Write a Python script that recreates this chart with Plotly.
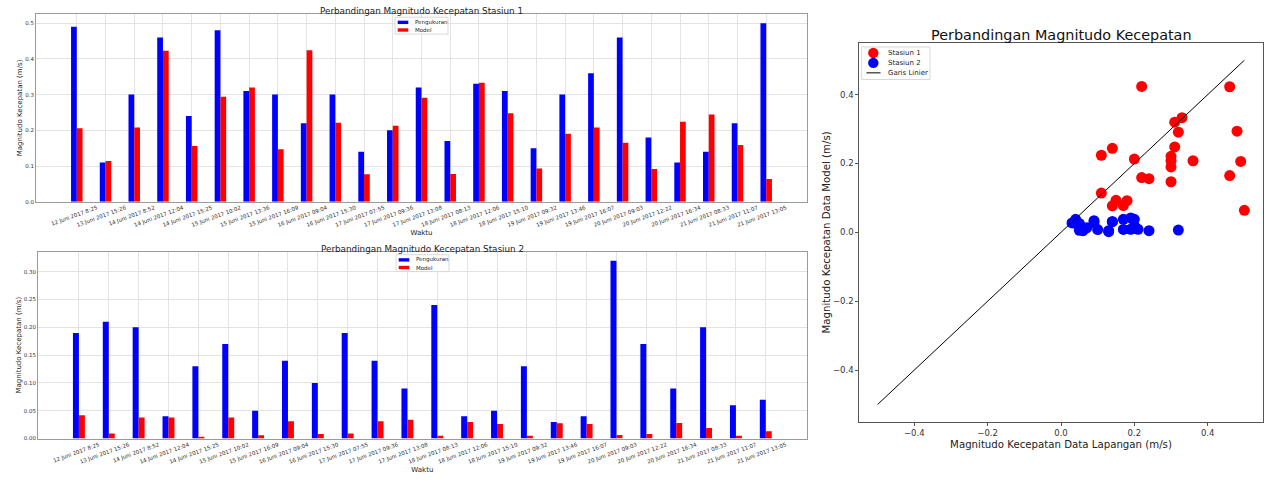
import plotly.graph_objects as go

waktu1 = ["12 Juni 2017 8:25", "13 Juni 2017 15:26", "14 Juni 2017 8:52", "14 Juni 2017 12:04",
          "14 Juni 2017 15:25", "15 Juni 2017 10:02", "15 Juni 2017 13:36", "15 Juni 2017 16:09",
          "16 Juni 2017 09:04", "16 Juni 2017 15:30", "17 Juni 2017 07:55", "17 Juni 2017 09:36",
          "17 Juni 2017 13:08", "18 Juni 2017 08:13", "18 Juni 2017 12:06", "18 Juni 2017 15:10",
          "19 Juni 2017 09:32", "19 Juni 2017 13:46", "19 Juni 2017 16:07", "20 Juni 2017 09:03",
          "20 Juni 2017 12:22", "20 Juni 2017 16:34", "21 Juni 2017 08:33", "21 Juni 2017 11:07",
          "21 Juni 2017 13:05"]
ukur1 = [0.49, 0.11, 0.30, 0.46, 0.24, 0.48, 0.31, 0.30, 0.22, 0.30, 0.14, 0.20, 0.32,
         0.17, 0.33, 0.31, 0.15, 0.30, 0.36, 0.46, 0.18, 0.11, 0.14, 0.22, 0.50]
model1 = [0.206, 0.114, 0.208, 0.423, 0.156, 0.294, 0.320, 0.147, 0.424, 0.221, 0.077, 0.213, 0.291,
          0.078, 0.333, 0.248, 0.093, 0.190, 0.208, 0.165, 0.092, 0.224, 0.244, 0.159, 0.064]

waktu2 = ["12 Juni 2017 8:25", "13 Juni 2017 15:26", "14 Juni 2017 8:52", "14 Juni 2017 12:04",
          "14 Juni 2017 15:25", "15 Juni 2017 10:02", "15 Juni 2017 16:09", "16 Juni 2017 09:04",
          "16 Juni 2017 15:30", "17 Juni 2017 07:55", "17 Juni 2017 09:36", "17 Juni 2017 13:08",
          "18 Juni 2017 08:13", "18 Juni 2017 12:06", "18 Juni 2017 15:10", "19 Juni 2017 09:32",
          "19 Juni 2017 13:46", "19 Juni 2017 16:07", "20 Juni 2017 09:03", "20 Juni 2017 12:22",
          "20 Juni 2017 16:34", "21 Juni 2017 08:33", "21 Juni 2017 11:07", "21 Juni 2017 13:05"]
ukur2 = [0.19, 0.21, 0.20, 0.04, 0.13, 0.17, 0.05, 0.14, 0.10, 0.19, 0.14, 0.09,
         0.24, 0.04, 0.05, 0.13, 0.03, 0.04, 0.32, 0.17, 0.09, 0.20, 0.06, 0.07]
model2 = [0.042, 0.009, 0.038, 0.038, 0.002, 0.038, 0.006, 0.031, 0.008, 0.009, 0.031, 0.034,
          0.005, 0.030, 0.026, 0.005, 0.0275, 0.026, 0.0066, 0.0084, 0.028, 0.019, 0.005, 0.013]

garis = [-0.5, 0.5]

BLUE = "#0000ff"
RED = "#ff0000"
FONT = "DejaVu Sans"
W, H = 1271, 483


def px_x(v):
    return v / W


def px_y(v):
    return 1 - v / H


fig = go.Figure()
fig.add_trace(go.Bar(x=waktu1, y=ukur1, name="Pengukuran", marker=dict(color=BLUE, line_width=0),
                     xaxis="x", yaxis="y", showlegend=False))
fig.add_trace(go.Bar(x=waktu1, y=model1, name="Model", marker=dict(color=RED, line_width=0),
                     xaxis="x", yaxis="y", showlegend=False))
fig.add_trace(go.Bar(x=waktu2, y=ukur2, name="Pengukuran", marker=dict(color=BLUE, line_width=0),
                     xaxis="x2", yaxis="y2", showlegend=False))
fig.add_trace(go.Bar(x=waktu2, y=model2, name="Model", marker=dict(color=RED, line_width=0),
                     xaxis="x2", yaxis="y2", showlegend=False))
fig.add_trace(go.Scatter(x=ukur1, y=model1, mode="markers", name="Stasiun 1",
                         marker=dict(color=RED, size=11, line_width=0),
                         xaxis="x3", yaxis="y3", showlegend=False))
fig.add_trace(go.Scatter(x=ukur2, y=model2, mode="markers", name="Stasiun 2",
                         marker=dict(color=BLUE, size=11, line_width=0),
                         xaxis="x3", yaxis="y3", showlegend=False))
fig.add_trace(go.Scatter(x=garis, y=garis, mode="lines", name="Garis Linier",
                         line=dict(color="black", width=1),
                         xaxis="x3", yaxis="y3", showlegend=False))

# ---- compact legends (matplotlib-like) built from shapes + text ----
shapes = []
annotations = []


def legend_box(x0, y0, x1, y1):
    shapes.append(dict(type="rect", xref="paper", yref="paper",
                       x0=px_x(x0), x1=px_x(x1), y0=px_y(y1), y1=px_y(y0),
                       line=dict(color="#d8d8d8", width=1), fillcolor="rgba(255,255,255,0.85)",
                       layer="above"))


def legend_text(x, y, txt, size):
    annotations.append(dict(text=txt, x=px_x(x), y=px_y(y), xref="paper", yref="paper",
                            xanchor="left", yanchor="middle", showarrow=False,
                            font=dict(size=size, color="#222")))


def bar_legend(left, top, names, colors):
    legend_box(left, top, left + 53, top + 17)
    for i, (nm, col) in enumerate(zip(names, colors)):
        cy = top + 5.2 + i * 7.7
        shapes.append(dict(type="rect", xref="paper", yref="paper",
                           x0=px_x(left + 2.7), x1=px_x(left + 13.3),
                           y0=px_y(cy + 1.7), y1=px_y(cy - 1.7),
                           line=dict(width=0), fillcolor=col, layer="above"))
        legend_text(left + 18, cy, nm, 5.5)


bar_legend(395, 17.3, ["Pengukuran", "Model"], [BLUE, RED])
bar_legend(396, 256.3, ["Pengukuran", "Model"], [BLUE, RED])

# scatter legend
legend_box(861.7, 47.3, 930, 80)
for i, (nm, col) in enumerate(zip(["Stasiun 1", "Stasiun 2"], [RED, BLUE])):
    cy = 53.3 + i * 10
    shapes.append(dict(type="circle", xref="paper", yref="paper",
                       x0=px_x(873.3 - 5.2), x1=px_x(873.3 + 5.2),
                       y0=px_y(cy + 5.2), y1=px_y(cy - 5.2),
                       line=dict(width=0), fillcolor=col, layer="above"))
    legend_text(886, cy, nm, 7)
shapes.append(dict(type="line", xref="paper", yref="paper",
                   x0=px_x(866.5), x1=px_x(880.5), y0=px_y(73.3), y1=px_y(73.3),
                   line=dict(color="black", width=1), layer="above"))
legend_text(886, 73.3, "Garis Linier", 7)

# titles
annotations += [
    dict(text="Perbandingan Magnitudo Kecepatan Stasiun 1", x=px_x(421.5), y=px_y(18),
         xref="paper", yref="paper", xanchor="center", yanchor="bottom", showarrow=False,
         font=dict(size=8.8, color="#222")),
    dict(text="Perbandingan Magnitudo Kecepatan Stasiun 2", x=px_x(422), y=px_y(257.5),
         xref="paper", yref="paper", xanchor="center", yanchor="bottom", showarrow=False,
         font=dict(size=8.8, color="#222")),
    dict(text="Perbandingan Magnitudo Kecepatan", x=px_x(1061), y=px_y(45.5),
         xref="paper", yref="paper", xanchor="center", yanchor="bottom", showarrow=False,
         font=dict(size=14.4, color="#111")),
]

bar_x_common = dict(type="category", showgrid=True, gridcolor="#e3e3e3", gridwidth=1,
                    showline=True, linecolor="#9a9a9a", linewidth=1, mirror=True,
                    ticks="", tickangle=-20, ticklabelshift=20,
                    tickfont=dict(size=5.5, color="#333"),
                    title=dict(text="Waktu", font=dict(size=7, color="#222"), standoff=0))
bar_y_common = dict(showgrid=True, gridcolor="#e3e3e3", gridwidth=1,
                    showline=True, linecolor="#9a9a9a", linewidth=1, mirror=True,
                    ticks="", zeroline=False,
                    tickfont=dict(size=5.5, color="#333"),
                    title=dict(text="Magnitudo Kecepatan (m/s)", font=dict(size=7, color="#222"), standoff=1))

fig.update_layout(
    width=W, height=H, margin=dict(l=0, r=0, t=0, b=0),
    paper_bgcolor="white", plot_bgcolor="white",
    font=dict(family=FONT, color="#222"),
    barmode="group", bargap=0.6, bargroupgap=0,
    showlegend=False,
    xaxis=dict(domain=[px_x(36), px_x(807)], anchor="y", range=[-1.42, 25.42], **bar_x_common),
    yaxis=dict(domain=[px_y(203), px_y(14.3)], anchor="x", range=[0, 0.525], dtick=0.1,
               tickformat=".1f", **bar_y_common),
    xaxis2=dict(domain=[px_x(38), px_x(806.7)], anchor="y2", range=[-1.37, 24.37], **bar_x_common),
    yaxis2=dict(domain=[px_y(441.3), px_y(253.3)], anchor="x2", range=[0, 0.336], dtick=0.05,
                tickformat=".2f", **bar_y_common),
    xaxis3=dict(domain=[px_x(859.3), px_x(1262.7)], anchor="y3", range=[-0.55, 0.55], dtick=0.2,
                tickformat=".1f", showgrid=False, zeroline=False,
                showline=True, linecolor="#555", linewidth=1, mirror=True,
                ticks="outside", ticklen=3, tickcolor="#555",
                tickfont=dict(size=8.5, color="#333"),
                title=dict(text="Magnitudo Kecepatan Data Lapangan (m/s)", font=dict(size=10.2, color="#222"), standoff=3)),
    yaxis3=dict(domain=[px_y(424.3), px_y(43.3)], anchor="x3", range=[-0.55, 0.55], dtick=0.2,
                tickformat=".1f", showgrid=False, zeroline=False,
                showline=True, linecolor="#555", linewidth=1, mirror=True,
                ticks="outside", ticklen=3, tickcolor="#555",
                tickfont=dict(size=8.5, color="#333"),
                title=dict(text="Magnitudo Kecepatan Data Model (m/s)", font=dict(size=10.2, color="#222"), standoff=0)),
    shapes=shapes,
    annotations=annotations,
)

fig.write_html("out.html")
